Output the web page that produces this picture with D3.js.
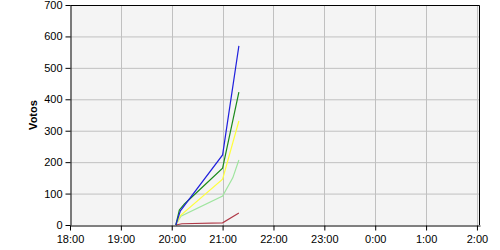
<!DOCTYPE html>
<html>
<head>
<meta charset="utf-8">
<script src="https://cdn.jsdelivr.net/npm/d3@7"></script>
<style>
  body { margin: 0; background: #fff; }
  text { font-family: "Liberation Sans", Arial, sans-serif; }
</style>
</head>
<body>
<svg id="chart" width="500" height="250"></svg>
<script>
// hours since 18:00 (values past midnight continue: 0:00 = 6)
const xTicks = [0, 1, 2, 3, 4, 5, 6, 7, 8];
const xTickLabels = ["18:00", "19:00", "20:00", "21:00", "22:00", "23:00", "0:00", "1:00", "2:00"];
const yTicks = [0, 100, 200, 300, 400, 500, 600, 700];

const blueTimes = [2.08, 2.17, 3.0, 3.32];
const blueVals = [0, 45, 223, 570];
const greenTimes = [2.08, 2.15, 2.25, 3.0, 3.32];
const greenVals = [0, 48, 67, 181, 423];
const yellowTimes = [2.08, 2.17, 3.0, 3.32];
const yellowVals = [0, 30, 146, 331];
const lightGreenTimes = [2.08, 2.18, 3.0, 3.2, 3.32];
const lightGreenVals = [0, 28, 92, 150, 207];
const redTimes = [2.08, 2.2, 3.0, 3.32];
const redVals = [0, 4, 7, 38];

const series = [
    { color: "#9fe59f", t: lightGreenTimes, v: lightGreenVals },
    { color: "#ffff3c", t: yellowTimes, v: yellowVals },
    { color: "#b03a48", t: redTimes, v: redVals },
    { color: "#1a8a1a", t: greenTimes, v: greenVals },
    { color: "#2020dd", t: blueTimes, v: blueVals }
];

const margin = { left: 70, top: 5, right: 20, bottom: 25 };
const width = 500 - margin.left - margin.right;
const height = 250 - margin.top - margin.bottom;

const x = d3.scaleLinear().domain([0, 8.06]).range([0, width]);
const y = d3.scaleLinear().domain([0, 700]).range([height, 0]);

const svg = d3.select("#chart");
const g = svg.append("g")
    .attr("transform", `translate(${margin.left}, ${margin.top})`);

g.append("rect")
    .attr("width", width)
    .attr("height", height)
    .style("fill", "#f4f4f4");

// grid
g.append("g")
    .selectAll("line")
    .data(yTicks.slice(1))
    .enter().append("line")
        .attr("x1", 0)
        .attr("x2", width)
        .attr("y1", d => y(d) + 0.5)
        .attr("y2", d => y(d) + 0.5)
        .style("stroke", "#c0c0c0");

g.append("g")
    .selectAll("line")
    .data(xTicks.slice(1))
    .enter().append("line")
        .attr("x1", d => Math.round(x(d)) + 0.5)
        .attr("x2", d => Math.round(x(d)) + 0.5)
        .attr("y1", 0)
        .attr("y2", height)
        .style("stroke", "#c0c0c0");

// lines
const line = d3.line()
    .x(d => x(d[0]))
    .y(d => y(d[1]));

series.forEach(s => {
    g.append("path")
        .datum(s.t.map((t, i) => [t, s.v[i]]))
        .attr("fill", "none")
        .attr("stroke", s.color)
        .attr("stroke-width", 1.2)
        .attr("d", line);
});

// frame (top and right)
g.append("path")
    .attr("d", `M0.5,0.5H${width - 0.5}V${height}`)
    .attr("fill", "none")
    .style("stroke", "black");

// axes
const yAxis = g.append("g")
    .attr("transform", "translate(0.5,0)")
    .call(d3.axisLeft(y).tickValues(yTicks).tickSize(5).tickSizeOuter(0));

const xAxis = g.append("g")
    .attr("transform", `translate(0, ${height + 0.5})`)
    .call(d3.axisBottom(x).tickValues(xTicks).tickFormat((d, i) => xTickLabels[i]).tickSize(5).tickSizeOuter(0));

[yAxis, xAxis].forEach(a => {
    a.selectAll("path, line").style("stroke", "black");
    a.selectAll("text")
        .style("font-size", "11px")
        .style("fill", "black")
        .attr("font-family", "Liberation Sans, Arial, sans-serif");
});
xAxis.selectAll("text").attr("dy", "0.9em");

svg.append("text")
    .attr("transform", `translate(37, ${margin.top + height / 2}) rotate(-90)`)
    .style("text-anchor", "middle")
    .style("font-size", "11px")
    .style("font-weight", "bold")
    .text("Votos");
</script>
</body>
</html>
